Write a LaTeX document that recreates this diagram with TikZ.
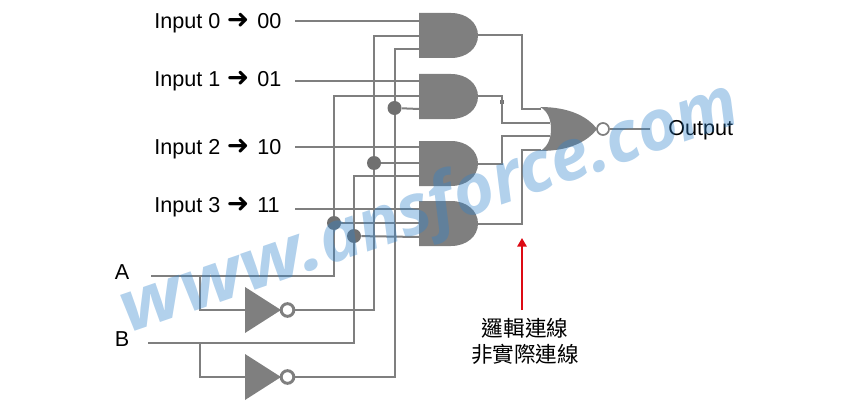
\documentclass[tikz,border=0pt]{standalone}
\usepackage{fontspec}
\usepackage{graphicx}
\setmainfont{Liberation Sans}
\newfontfamily\cjkfont{Noto Sans CJK TC}
\newfontfamily\symfont{DejaVu Sans}
\newfontfamily\markfont{Open Sans}
\usetikzlibrary{arrows.meta,calc}
\definecolor{wirec}{HTML}{7F7F7F}
\definecolor{dotc}{HTML}{707070}
\definecolor{markc}{HTML}{2E82CB}
\definecolor{redc}{HTML}{DD0A14}
\tikzset{
  wire/.style={draw=wirec,line width=1.5pt},
  gatefill/.style={fill=wirec,draw=none},
  junction/.style={circle,fill=dotc,draw=none,minimum size=10.5pt,inner sep=0pt},
  tinyjunction/.style={rectangle,fill=dotc,draw=none,minimum size=3pt,inner sep=0pt},
  bubble/.style={circle,fill=white,draw=wirec,line width=2.2pt,minimum size=9.5pt,inner sep=0pt},
  norbubble/.style={circle,fill=white,draw=wirec,line width=1.3pt,minimum size=9pt,inner sep=0pt},
  lab/.style={text=black,font=\fontsize{16.2}{19}\selectfont,inner sep=0pt},
  cjklab/.style={text=black,font=\cjkfont\fontsize{16.2}{19}\selectfont,inner sep=0pt},
}
\newcommand{\andgate}[2]{%
  \fill[gatefill] (419,#2) -- (451,#2) .. controls (467,#2) and (478,#2+10) .. (478,#2+22.5)
    .. controls (478,#2+35) and (467,#2+45) .. (451,#2+45) -- (419,#2+45) -- cycle;
  \coordinate (#1o) at (478,#2+22.5);}
\newcommand{\invgate}[2]{%
  \fill[gatefill] (245,#2-23) -- (281,#2) -- (245,#2+23) -- cycle;
  \coordinate (#1i) at (245,#2);
  \node[bubble] (#1b) at (287.5,#2) {};}
\newcommand{\inlab}[2]{Input #1\hspace{5pt}{\symfont\bfseries\fontsize{20}{19}\selectfont\char"279C}\hspace{6pt}#2}
\begin{document}
\begin{tikzpicture}[x=0.75pt,y=-0.75pt]
\useasboundingbox (0,0) rectangle (860,410);
% gates
\andgate{ga}{13}
\andgate{gb}{74}
\andgate{gc}{141}
\andgate{gd}{201}
\invgate{na}{310}
\invgate{nb}{377}
\fill[gatefill] (540,107) .. controls (570,107) and (588,117) .. (597,129)
  .. controls (588,141) and (570,151) .. (540,151)
  .. controls (548,147) and (551,138) .. (551,129)
  .. controls (551,120) and (548,111) .. (540,107) -- cycle;
\coordinate (nora) at (541,109);
\coordinate (norb) at (550,123);
\coordinate (norc) at (550,136);
\coordinate (nord) at (541,150);
% gate input ports
\coordinate (ga1) at (419,21);
\coordinate (ga2) at (419,36);
\coordinate (ga3) at (419,49);
\coordinate (gb1) at (419,81);
\coordinate (gb2) at (419,96);
\coordinate (gb3) at (419,109);
\coordinate (gc1) at (419,147);
\coordinate (gc2) at (419,163);
\coordinate (gc3) at (419,176);
\coordinate (gd1) at (419,209);
\coordinate (gd2) at (419,223);
\coordinate (gd3) at (419,237);
% free ends
\coordinate (in0) at (295,21);
\coordinate (in1) at (295,81);
\coordinate (in2) at (295,147);
\coordinate (in3) at (295,209);
\coordinate (ina) at (151,276);
\coordinate (inb) at (148,343);
\coordinate (bra) at (200,276);
\coordinate (brb) at (200,343);
\coordinate (cna) at (374,310);
\coordinate (cnb) at (395,377);
\coordinate (ca) at (334,276);
\coordinate (cb) at (354,343);
\coordinate (ka) at (521.5,109);
\coordinate (kb) at (502,123);
\coordinate (kc) at (502,136);
\coordinate (kd) at (521.5,150);
% labels
\node[lab,anchor=base west] (t0) at (154,29) {\inlab{0}{00}};
\node[lab,anchor=base west] (t1) at (154,87) {\inlab{1}{01}};
\node[lab,anchor=base west] (t2) at (154,154) {\inlab{2}{10}};
\node[lab,anchor=base west] (t3) at (154,212) {\inlab{3}{11}};
\node[lab,anchor=base] (ta) at (122,279) {A};
\node[lab,anchor=base] (tb) at (122,346) {B};
\node[lab,anchor=base west] (tout) at (668,135) {Output};
\node[cjklab] (tn1) at (525,328) {邏輯連線};
\node[cjklab] (tn2) at (525,354) {非實際連線};
% wires
\draw[wire] (in0) -- (ga1);
\draw[wire] (in1) -- (gb1);
\draw[wire] (in2) -- (gc1);
\draw[wire] (in3) -- (gd1);
\draw[wire] (ga2) -| (cna) -- (nab);
\draw[wire] (ga3) -| (cnb) -- (nbb);
\draw[wire] (gb2) -| (ca) -- (ina);
\draw[wire] (gc3) -| (cb) -- (inb);
\node[junction] (ja) at (394.5,108) {};
\node[junction] (jb) at (374,163) {};
\node[junction] (jc) at (334,223) {};
\node[junction] (jd) at (354,236) {};
\node[tinyjunction] (je) at (502,102) {};
\draw[wire] (ja) -- (gb3);
\draw[wire] (jb) -- (gc2);
\draw[wire] (jc) -- (gd2);
\draw[wire] (jd) -- (gd3);
\draw[wire] (bra) |- (nai);
\draw[wire] (brb) |- (nbi);
\draw[wire] (gao) -| (ka) -- (nora);
\draw[wire] (gbo) -| (kb) -- (norb);
\draw[wire] (gco) -| (kc) -- (norc);
\draw[wire] (gdo) -| (kd) -- (nord);
\node[norbubble] (out) at (603,129) {};
\coordinate (outend) at (650,129);
\draw[wire] (out) -- (outend);
% red arrow
\coordinate (ra) at (522,310);
\coordinate (rb) at (522,238);
\draw[draw=redc,line width=1.5pt,-{Triangle[length=6.5pt,width=7pt]}] (ra) -- (rb);
% watermark
\node[text=markc,opacity=0.37,font=\markfont\bfseries\itshape\fontsize{53}{60}\selectfont,rotate=19,inner sep=0pt,anchor=base west] (wm) at (128,334) {\scalebox{1.14}[1]{www.}\scalebox{0.985}[1]{ansforce.com}};
\end{tikzpicture}
\end{document}
